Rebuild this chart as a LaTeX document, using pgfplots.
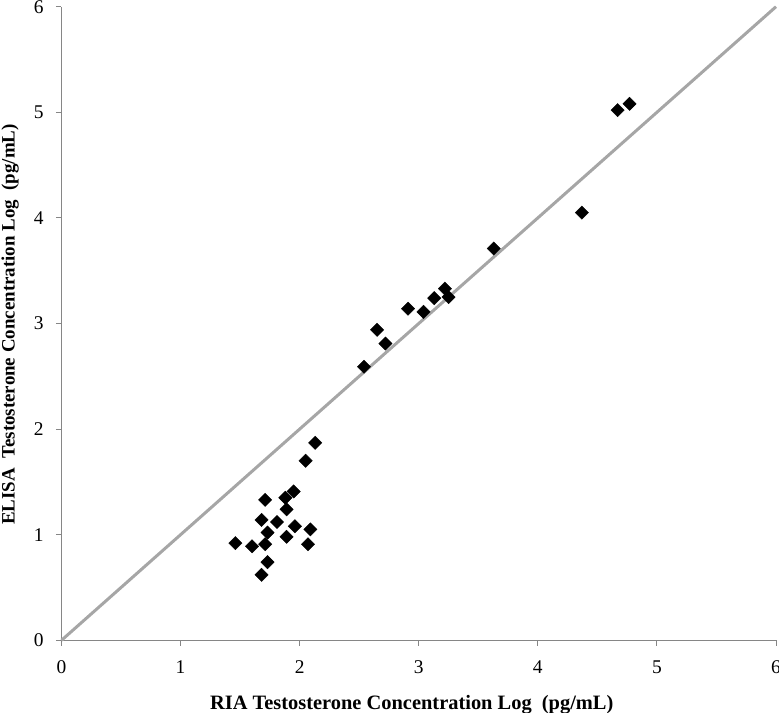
\documentclass[border=0pt]{standalone}
\usepackage{pgfplots}
\pgfplotsset{compat=1.18}
\usepackage{fontspec}
\setmainfont{Liberation Serif}
\definecolor{axisgray}{RGB}{134,134,134}
\definecolor{linegray}{RGB}{166,166,166}

\begin{document}
\begin{tikzpicture}[x=1bp,y=1bp]
\begin{axis}[
    scale only axis,
    width=714.5bp,
    height=633.6bp,
    at={(0,0)}, anchor=south west,
    xmin=0, xmax=6,
    ymin=0, ymax=6,
    xtick={0,1,2,3,4,5,6},
    ytick={0,1,2,3,4,5,6},
    axis x line=bottom,
    axis y line=left,
    axis line style={axisgray, line width=1bp, -},
    tick style={axisgray, line width=1bp},
    tick align=outside,
    major tick length=5.5bp,
    ticklabel style={font=\fontsize{19.5}{19.5}\selectfont},
    /pgf/number format/assume math mode=true,
    xticklabel style={yshift=-11bp},
    yticklabel style={xshift=-9bp},
    xlabel={\textbf{RIA Testosterone Concentration Log\ \ (pg/mL)}},
    ylabel={\textbf{ELISA\ \ Testosterone Concentration Log\ \ (pg/mL)}},
    xlabel style={font=\fontsize{20.5}{20.5}\selectfont, yshift=-15bp, xshift=-7bp},
    ylabel style={font=\fontsize{19}{19}\selectfont, yshift=8bp, xshift=-1bp},
    clip=false,
]

% line of identity
\addplot[linegray, line width=3bp, no marks] coordinates {(0,0) (6,6)};

% RIA vs ELISA (log)
\addplot[only marks, mark=square*, mark size=4.7bp,
         mark options={rotate=45, fill=black, draw=black}] coordinates {
    (1.46,0.92) (1.60,0.89) (1.68,1.14) (1.71,1.33) (1.73,1.02)
    (1.71,0.91) (1.73,0.74) (1.68,0.62) (1.81,1.12) (1.88,1.35)
    (1.89,1.24) (1.89,0.98) (1.95,1.41) (1.96,1.08) (2.09,1.05)
    (2.07,0.91) (2.05,1.70) (2.13,1.87) (2.54,2.59) (2.65,2.94)
    (2.72,2.81) (2.91,3.14) (3.04,3.11) (3.13,3.24) (3.22,3.33)
    (3.25,3.25) (3.63,3.71) (4.37,4.05) (4.67,5.02) (4.77,5.08)
};

\end{axis}
\pgfresetboundingbox
\useasboundingbox (-61.5,-72.7) rectangle (717.5,640.3);
\end{tikzpicture}
\end{document}
